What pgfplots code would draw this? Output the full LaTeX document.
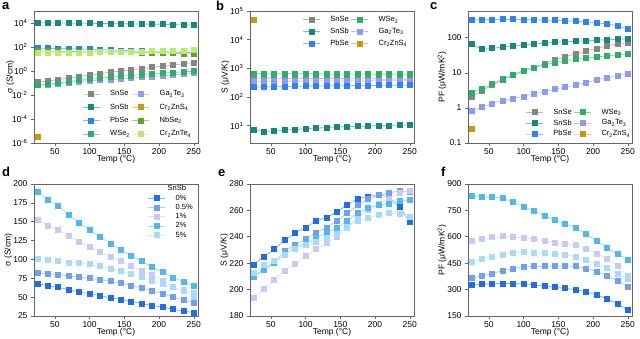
\documentclass[border=0pt]{standalone}
\usepackage{pgfplots}
\pgfplotsset{compat=1.18}
\usepackage{pgfplotstable}
\usepackage{fontspec}
\setmainfont{Liberation Sans}

\definecolor{cSnSe}{HTML}{858585}
\definecolor{cSnSb}{HTML}{16897C}
\definecolor{cPbSe}{HTML}{2E84EE}
\definecolor{cWSe}{HTML}{2FAE6A}
\definecolor{cGaTe}{HTML}{8E9BF5}
\definecolor{cCrS}{HTML}{C8980F}
\definecolor{cNbSe}{HTML}{5EA42A}
\definecolor{cCrTe}{HTML}{B7EB6B}
\definecolor{d0}{HTML}{1E6FE6}
\definecolor{d1}{HTML}{6FA1EC}
\definecolor{d2}{HTML}{C6CBF5}
\definecolor{d3}{HTML}{4FB8F0}
\definecolor{d4}{HTML}{A9DBF6}

\pgfplotstableread{
T SnSe SnSb PbSe WSe Ga NbSe CrTe
25 0.12 10500 80 0.065 0.065 45 30
40 0.15 10200 78 0.08 0.075 44 31
55 0.19 10000 75 0.10 0.09 43 32
70 0.26 9800 72 0.13 0.11 42 33
85 0.35 9500 68 0.17 0.13 41 34
100 0.45 9300 64 0.20 0.15 40 35
115 0.6 9000 60 0.25 0.17 39 36
130 0.8 8800 56 0.30 0.19 38 37
145 1.0 8600 52 0.36 0.22 37 38
160 1.3 8400 48 0.42 0.26 36 40
175 1.6 8200 45 0.50 0.30 35 41
190 2.0 8000 42 0.58 0.35 33 43
205 2.5 7700 40 0.65 0.40 32 45
220 3.1 7400 37 0.75 0.47 30 47
235 4.0 7100 35 0.85 0.55 28 50
250 5.2 6800 33 0.95 0.65 26 53
}\tabA

\pgfplotstableread{
T SnSe SnSb PbSe WSe Ga
25 460 7.2 222 660 355
40 458 6.3 225 655 356
55 455 6.5 228 652 357
70 452 6.9 232 650 358
85 450 7.4 236 648 359
100 447 7.9 239 645 360
115 445 8.3 242 643 361
130 442 8.6 245 640 362
145 440 9.0 248 638 363
160 437 9.2 250 636 364
175 435 9.5 252 634 365
190 432 9.8 254 632 366
205 430 10.0 256 630 367
220 427 10.2 258 628 368
235 424 10.5 259 626 369
250 420 10.8 260 624 370
}\tabB

\pgfplotstableread{
T SnSe SnSb PbSe WSe Ga
25 2.08 65 325 2.65 0.82
40 3.1 47 330 3.6 1.07
55 4.5 50 332 4.85 1.34
70 6.3 55 335 6.6 1.63
85 8.5 58 335 8.8 1.86
100 11.3 62 332 11.7 2.13
115 14.1 66 330 14.0 2.5
130 18.4 70 322 17.0 2.9
145 23 74 314 19.5 3.4
160 28.8 77 306 22.3 3.9
175 35 79 296 24.4 4.5
190 42 82 283 26 5.3
205 49 85 268 28.5 6.3
220 58.6 88 248 30.5 7.2
235 67 91 220 32.5 8.4
250 73 94 182 35 9.6
}\tabC

\pgfplotstableread{
T a b c d e
25 68 82 153 190 101
40 65 81 145 179 99
55 63 80 139 171 97.5
70 60 78 131 159 96
85 57 76.5 123 149 95
100 54.5 75 117 139 93.5
115 52 73 110 130 91
130 49 71 104 121 88
145 47 68.5 97.5 113 85
160 44 65.5 91 105 80.5
175 41.5 62 85 97.5 76.5
190 39 58.5 79 90 72
205 36.5 54.5 72 83 67
220 34 50.5 64 76 63
235 31.5 46.5 58 70.5 59
250 29.5 42 50.5 65 55
}\tabD

\pgfplotstableread{
T a b c d e
25 219 210 194 209.5 212.5
40 225 216 200.5 215 218.5
55 230.5 221 207.5 220 222
70 237.5 229 214.5 227 226.5
85 243 234 219.5 232 231
100 247 238.5 225.5 235 233.5
115 252 243 230.5 239 236
130 254.5 247 235 243 239
145 259 252 240 247 242
160 264 258 247 252 247.5
175 269 264 255 258 252
190 270.5 268.5 260 262 254.5
205 272 271.5 265 264 256.5
220 270 273.5 269 265 258
235 263 274.5 273 267 257
250 251 274 275 268 255
}\tabE

\pgfplotstableread{
T a b c d e
25 325 365 577 835 457
40 330 378 587 827 472
55 333 392 598 826 483
70 335 408 603 820 497
85 335 420 597 797 510
100 332 428 595 772 513
115 328 432 587 745 510
130 320 432 578 720 507
145 313 433 567 695 500
160 307 435 562 672 497
175 300 432 553 652 487
190 287 420 532 617 467
205 270 403 505 578 445
220 247 380 475 537 423
235 218 350 437 502 390
250 183 315 380 470 362
}\tabF

\pgfplotsset{
  panel/.style={scale only axis, width=164pt, height=132pt,
    xmin=20, xmax=256, xtick={50,100,150,200,250},
    tick align=outside, tick pos=left,
    axis line style={black!60, line width=0.6pt},
    major tick style={black!60, line width=0.6pt}, major tick length=3pt,
    minor tick style={draw=none}, minor tick length=0pt,
    xlabel={Temp (°C)},
    label style={font=\fontsize{8.5}{10}\selectfont},
    tick label style={font=\fontsize{8.5}{10}\selectfont},
    /pgf/number format/assume math mode=true,
    legend style={draw=none, fill=none, font=\fontsize{7.5}{9}\selectfont,
      /tikz/every odd column/.append style={column sep=8pt}},
    legend cell align=left,
    xlabel style={yshift=6pt},
    xticklabel style={yshift=1pt},
    ylabel style={yshift=-6pt}},
  s/.style={color=#1!55!white, line width=0.8pt, mark=square*, mark size=2.5pt,
    mark options={fill=#1, draw=#1, solid}},
}

\begin{document}
\begin{tikzpicture}
\useasboundingbox (0pt,0pt) rectangle (640pt,339pt);
\def\lf{\bfseries\fontsize{13}{13}\selectfont}
\node[anchor=base west, font=\lf, inner sep=0] at (2pt,329pt) {a};
\node[anchor=base west, font=\lf, inner sep=0] at (216pt,328pt) {b};
\node[anchor=base west, font=\lf, inner sep=0] at (430pt,329pt) {c};
\node[anchor=base west, font=\lf, inner sep=0] at (2pt,162pt) {d};
\node[anchor=base west, font=\lf, inner sep=0] at (218pt,162pt) {e};
\node[anchor=base west, font=\lf, inner sep=0] at (441pt,162pt) {f};

% panel a
\begin{axis}[panel, at={(34pt,196pt)}, ymode=log, ymin=1e-6, ymax=1e5,
  ytick={1e-6,1e-4,1e-2,1,1e2,1e4},
  yticklabels={10\textsuperscript{-6},10\textsuperscript{-4},10\textsuperscript{-2},10\textsuperscript{0},10\textsuperscript{2},10\textsuperscript{4}},
  ylabel={σ (S/cm)}, ylabel style={yshift=-3pt}, legend columns=2,
  legend style={at={(0.99,0.01)}, anchor=south east, row sep=2.5pt}]
\addplot[s=cSnSe] table[x=T,y=SnSe]{\tabA}; \addlegendentry{SnSe}
\addplot[s=cGaTe] table[x=T,y=Ga]{\tabA}; \addlegendentry{Ga\textsubscript{2}Te\textsubscript{3}}
\addplot[s=cSnSb] table[x=T,y=SnSb]{\tabA}; \addlegendentry{SnSb}
\addplot[s=cCrS] coordinates {(25,3.5e-6)}; \addlegendentry{Cr\textsubscript{2}ZnS\textsubscript{4}}
\addplot[s=cPbSe] table[x=T,y=PbSe]{\tabA}; \addlegendentry{PbSe}
\addplot[s=cNbSe] table[x=T,y=NbSe]{\tabA}; \addlegendentry{NbSe\textsubscript{2}}
\addplot[s=cWSe] table[x=T,y=WSe]{\tabA}; \addlegendentry{WSe\textsubscript{2}}
\addplot[s=cCrTe] table[x=T,y=CrTe]{\tabA}; \addlegendentry{Cr\textsubscript{2}ZnTe\textsubscript{4}}
\end{axis}

% panel b
\begin{axis}[panel, at={(250pt,196pt)}, ymode=log, ymin=2.5, ymax=1e5,
  ytick={10,100,1000,1e4,1e5},
  yticklabels={10\textsuperscript{1},10\textsuperscript{2},10\textsuperscript{3},10\textsuperscript{4},10\textsuperscript{5}},
  ylabel={S (μV/K)}, legend columns=2,
  legend style={at={(0.99,0.99)}, anchor=north east, row sep=1pt}]
\addplot[s=cSnSe] table[x=T,y=SnSe]{\tabB}; \addlegendentry{SnSe}
\addplot[s=cWSe] table[x=T,y=WSe]{\tabB}; \addlegendentry{WSe\textsubscript{2}}
\addplot[s=cSnSb] table[x=T,y=SnSb]{\tabB}; \addlegendentry{SnSb}
\addplot[s=cGaTe] table[x=T,y=Ga]{\tabB}; \addlegendentry{Ga\textsubscript{2}Te\textsubscript{3}}
\addplot[s=cPbSe] table[x=T,y=PbSe]{\tabB}; \addlegendentry{PbSe}
\addplot[s=cCrS] coordinates {(25,5e4)}; \addlegendentry{Cr\textsubscript{2}ZnS\textsubscript{4}}
\end{axis}

% panel c
\begin{axis}[panel, at={(468pt,196pt)}, ymode=log, ymin=0.1, ymax=580,
  ytick={0.1,1,10,100}, yticklabels={0.1,1,10,100},
  ylabel={PF (μW/mK\textsuperscript{2})}, legend columns=2,
  legend style={at={(1.02,0.01)}, anchor=south east}]
\addplot[s=cSnSe] table[x=T,y=SnSe]{\tabC}; \addlegendentry{SnSe}
\addplot[s=cWSe] table[x=T,y=WSe]{\tabC}; \addlegendentry{WSe\textsubscript{2}}
\addplot[s=cSnSb] table[x=T,y=SnSb]{\tabC}; \addlegendentry{SnSb}
\addplot[s=cGaTe] table[x=T,y=Ga]{\tabC}; \addlegendentry{Ga\textsubscript{2}Te\textsubscript{3}}
\addplot[s=cPbSe] table[x=T,y=PbSe]{\tabC}; \addlegendentry{PbSe}
\addplot[s=cCrS] coordinates {(25,0.25)}; \addlegendentry{Cr\textsubscript{2}ZnS\textsubscript{4}}
\end{axis}

% panel d
\begin{axis}[panel, at={(34pt,23pt)}, ymin=25, ymax=200, ytick={25,50,...,200},
  ylabel={σ (S/cm)},
  legend style={at={(1.0,1.02)}, anchor=north east, row sep=-1.5pt}]
\addlegendimage{empty legend}\addlegendentry{\hspace{-8pt}SnSb}
\addplot[s=d0] table[x=T,y=a]{\tabD}; \addlegendentry{0\%}
\addplot[s=d1] table[x=T,y=b]{\tabD}; \addlegendentry{0.5\%}
\addplot[s=d2] table[x=T,y=c]{\tabD}; \addlegendentry{1\%}
\addplot[s=d3] table[x=T,y=d]{\tabD}; \addlegendentry{2\%}
\addplot[s=d4] table[x=T,y=e]{\tabD}; \addlegendentry{5\%}
\end{axis}

% panel e
\begin{axis}[panel, at={(250pt,23pt)}, ymin=180, ymax=280, ytick={180,200,...,280},
  ylabel={S (μV/K)}]
\addplot[s=d0] table[x=T,y=a]{\tabE};
\addplot[s=d1] table[x=T,y=b]{\tabE};
\addplot[s=d2] table[x=T,y=c]{\tabE};
\addplot[s=d3] table[x=T,y=d]{\tabE};
\addplot[s=d4] table[x=T,y=e]{\tabE};
\end{axis}

% panel f
\begin{axis}[panel, at={(468pt,23pt)}, ymin=150, ymax=900, ytick={150,300,...,900},
  ylabel={PF (μW/mK\textsuperscript{2})}]
\addplot[s=d0] table[x=T,y=a]{\tabF};
\addplot[s=d1] table[x=T,y=b]{\tabF};
\addplot[s=d2] table[x=T,y=c]{\tabF};
\addplot[s=d3] table[x=T,y=d]{\tabF};
\addplot[s=d4] table[x=T,y=e]{\tabF};
\end{axis}
\end{tikzpicture}
\end{document}
